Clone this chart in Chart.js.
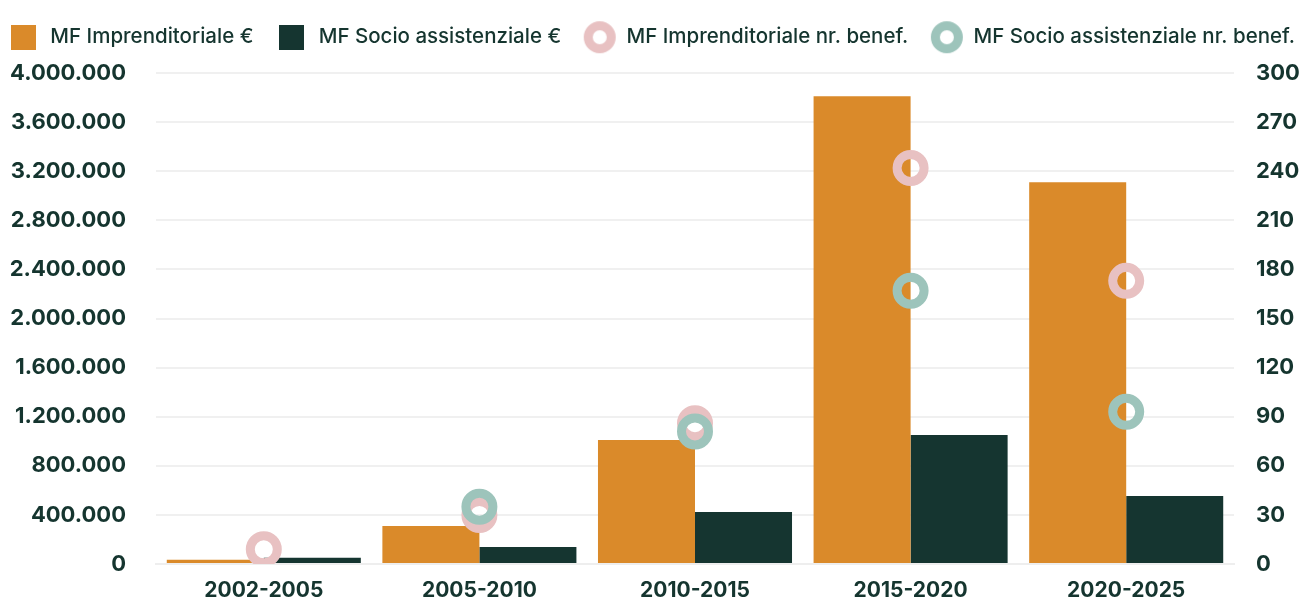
<!DOCTYPE html>
<html lang="it">
<head>
<meta charset="utf-8">
<title>Microfinanza</title>
<script src="https://cdn.jsdelivr.net/npm/chart.js@4"></script>
<style>
    html, body { margin: 0; padding: 0; background: #ffffff; overflow: hidden; }
    canvas { display: block; }
</style>
</head>
<body>
<canvas id="mfChart" width="1302" height="601"></canvas>
<script>
// Periods and amounts
const periodi = ['2002-2005', '2005-2010', '2010-2015', '2015-2020', '2020-2025'];
const importiImprenditoriale = [35000, 310000, 1010000, 3810000, 3110000];
const importiSocio = [50000, 138000, 424000, 1050000, 554000];
const beneficiariImprenditoriale = [9, 30, 86, 242, 173];
const beneficiariSocio = [null, 35, 81, 167, 93];

const INK = '#15352f';
const FONT = 'Inter, "Noto Sans", sans-serif';
const ORANGE = '#da8a2a';
const GREEN = '#153530';
const PINK = '#e8c1c2';
const TEAL = '#9dc4bb';

// 4000000 -> "4.000.000"
function formatEuro(value) {
    return String(Math.round(value)).replace(/\B(?=(\d{3})+(?!\d))/g, '.');
}

// small canvases used as legend markers
function squareIcon(color) {
    const c = document.createElement('canvas');
    c.width = 25; c.height = 25;
    const g = c.getContext('2d');
    g.fillStyle = color;
    g.fillRect(0, 0, 25, 25);
    return c;
}

function ringIcon(color) {
    const c = document.createElement('canvas');
    c.width = 34; c.height = 34;
    const g = c.getContext('2d');
    g.strokeStyle = color;
    g.lineWidth = 9;
    g.beginPath();
    g.arc(17, 17, 11.5, 0, Math.PI * 2);
    g.stroke();
    return c;
}

const legendIcons = [squareIcon(ORANGE), squareIcon(GREEN), ringIcon(PINK), ringIcon(TEAL)];

// keep the legend on one row across the full width, fixed height above the plot
const legendRow = {
    id: 'legendRow',
    beforeInit(chart) {
        const fit = chart.legend.fit;
        chart.legend.fit = function () {
            const available = this.maxWidth;
            this.maxWidth = 1400;
            fit.bind(chart.legend)();
            this.maxWidth = available;
            this.width = available;
            this.height = 68;
        };
    },
    beforeDraw(chart) {
        const legend = chart.legend;
        legend.left = -30;
        legend.right = chart.width + 30;
        legend.width = chart.width + 60;
    }
};

// fixed axis widths, no extra label padding around the plot
function sideAxis(width) {
    return (scale) => {
        scale.width = width;
        scale.paddingTop = 0;
        scale.paddingBottom = 0;
    };
}

const ctx = document.getElementById('mfChart').getContext('2d');

const chart = new Chart(ctx, {
    data: {
        labels: periodi,
        datasets: [
            {
                type: 'bar',
                label: 'MF Imprenditoriale €',
                data: importiImprenditoriale,
                backgroundColor: ORANGE,
                yAxisID: 'y',
                order: 3,
                categoryPercentage: 0.9,
                barPercentage: 1.0
            },
            {
                type: 'bar',
                label: 'MF Socio assistenziale €',
                data: importiSocio,
                backgroundColor: GREEN,
                yAxisID: 'y',
                order: 4,
                categoryPercentage: 0.9,
                barPercentage: 1.0
            },
            {
                type: 'line',
                label: 'MF Imprenditoriale nr. benef.',
                data: beneficiariImprenditoriale,
                showLine: false,
                pointStyle: 'circle',
                pointRadius: 13.5,
                pointHoverRadius: 13.5,
                pointBorderWidth: 9,
                pointBorderColor: PINK,
                pointBackgroundColor: 'rgba(0,0,0,0)',
                borderColor: PINK,
                yAxisID: 'y1',
                order: 2
            },
            {
                type: 'line',
                label: 'MF Socio assistenziale nr. benef.',
                data: beneficiariSocio,
                showLine: false,
                pointStyle: 'circle',
                pointRadius: 13.5,
                pointHoverRadius: 13.5,
                pointBorderWidth: 9,
                pointBorderColor: TEAL,
                pointBackgroundColor: 'rgba(0,0,0,0)',
                borderColor: TEAL,
                yAxisID: 'y1',
                order: 1
            }
        ]
    },
    options: {
        responsive: false,
        animation: false,
        layout: {
            padding: { left: 0, right: 0, top: 5, bottom: 0 }
        },
        plugins: {
            legend: {
                position: 'top',
                labels: {
                    usePointStyle: true,
                    pointStyleWidth: 33,
                    padding: 22,
                    color: INK,
                    font: { family: FONT, size: 20.5, weight: '500' },
                    sort: (a, b) => a.datasetIndex - b.datasetIndex,
                    generateLabels(chart) {
                        const items = Chart.defaults.plugins.legend.labels.generateLabels(chart);
                        items.forEach(item => { item.pointStyle = legendIcons[item.datasetIndex]; });
                        return items;
                    }
                }
            },
            tooltip: { enabled: false }
        },
        scales: {
            x: {
                grid: { display: false, drawTicks: false },
                border: { display: true, color: '#eeeeee', width: 2 },
                ticks: {
                    color: INK,
                    padding: 14,
                    font: { family: FONT, size: 21, weight: 'bold' }
                },
                afterFit(scale) { scale.height = 37; }
            },
            y: {
                position: 'left',
                min: 0,
                max: 4000000,
                grid: { color: '#f0f0f0', lineWidth: 2, drawTicks: false },
                border: { display: false },
                ticks: {
                    stepSize: 400000,
                    color: INK,
                    padding: 30,
                    font: { family: FONT, size: 22, weight: 'bold' },
                    callback: (value) => formatEuro(value)
                },
                afterFit: sideAxis(156)
            },
            y1: {
                position: 'right',
                min: 0,
                max: 300,
                grid: { display: false, drawTicks: false },
                border: { display: false },
                ticks: {
                    stepSize: 30,
                    color: INK,
                    padding: 22,
                    font: { family: FONT, size: 22, weight: 'bold' }
                },
                afterFit: sideAxis(68)
            }
        }
    },
    plugins: [legendRow]
});
</script>
</body>
</html>
